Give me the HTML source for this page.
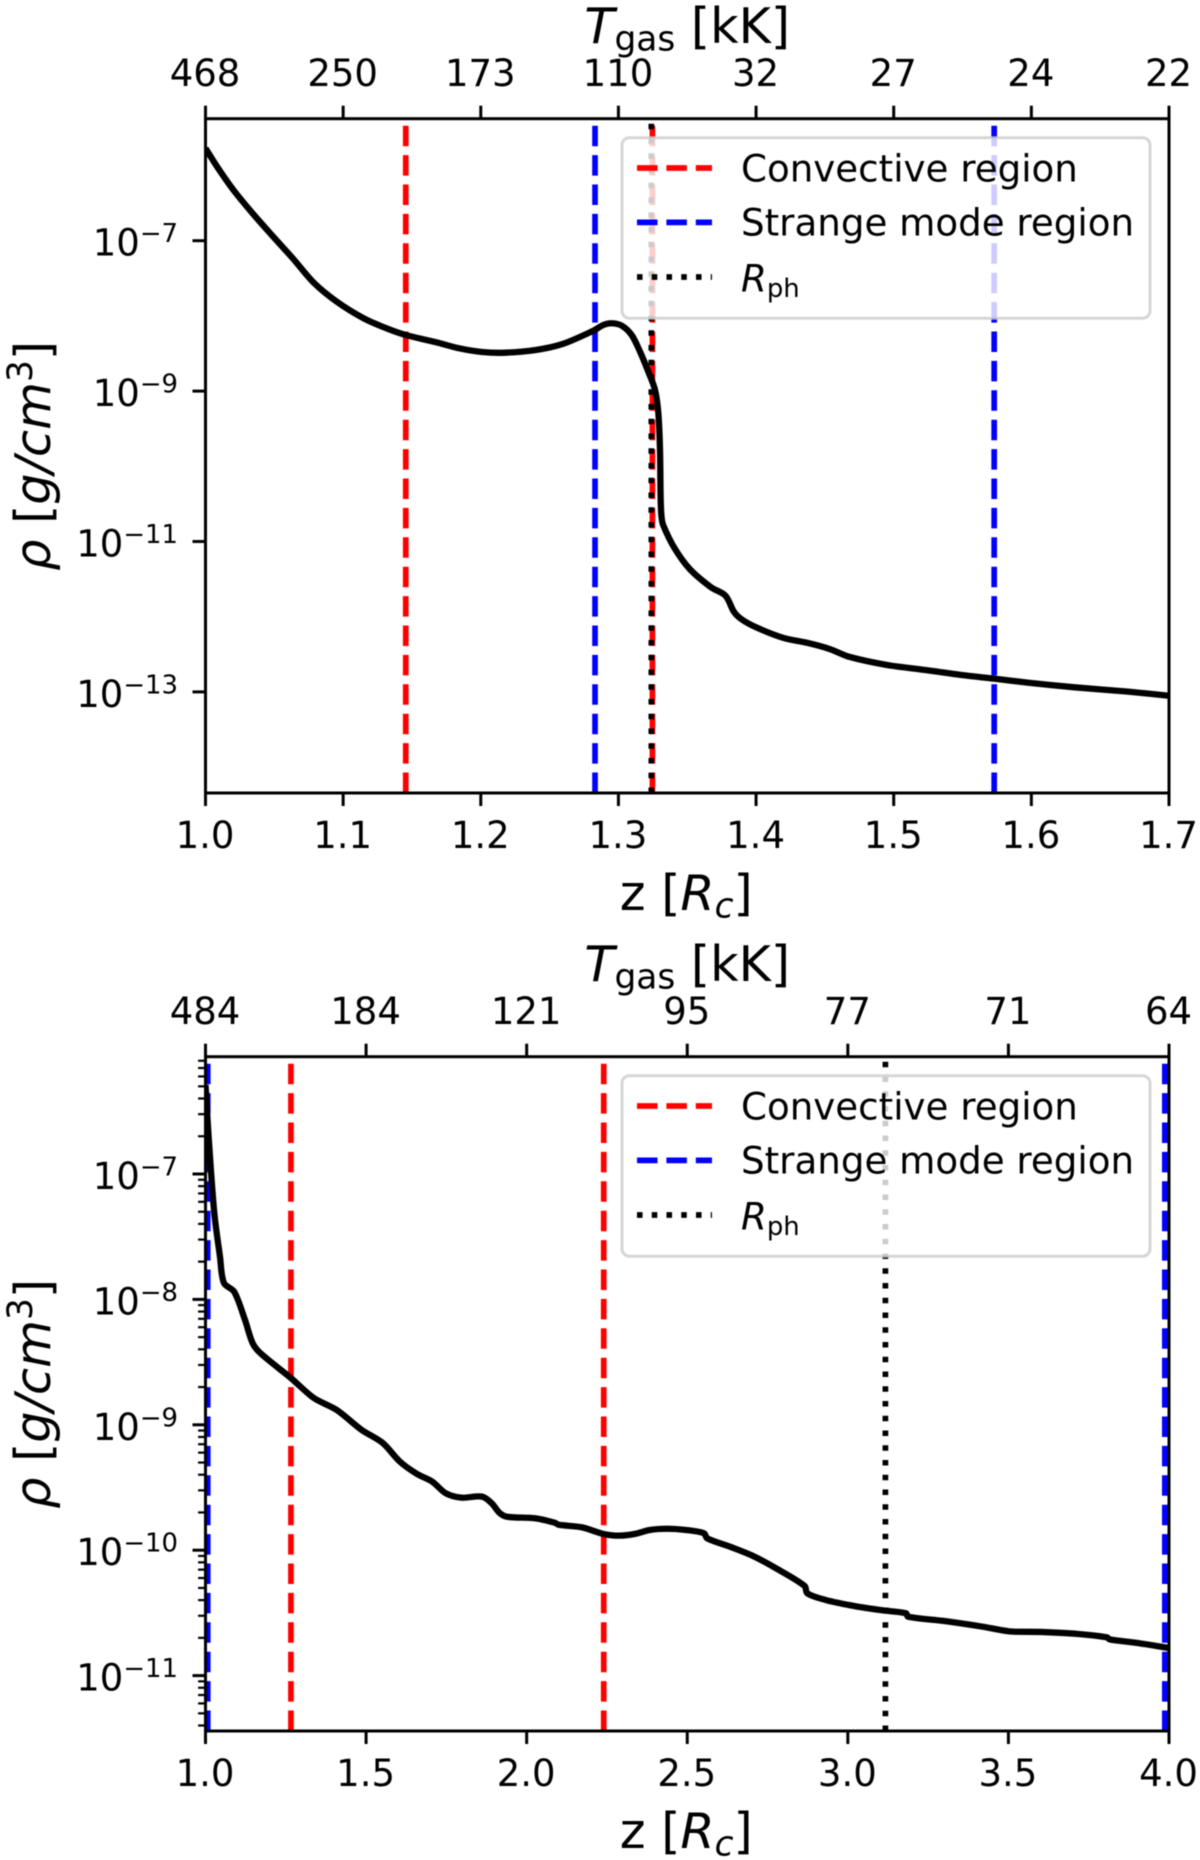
<!DOCTYPE html>
<html lang="en">
<head>
<meta charset="utf-8">
<title>Density profiles</title>
<style>
  html, body { margin: 0; padding: 0; background: #fff; }
  svg { display: block; filter: blur(0.5px); }
  text { font-family: "DejaVu Sans", "Liberation Sans", sans-serif; fill: #000; }
  .it { font-style: italic; }
</style>
</head>
<body>
<svg id="figure" xmlns="http://www.w3.org/2000/svg" width="1200" height="1860" viewBox="0 0 1200 1860">
  <rect x="0" y="0" width="1200" height="1860" fill="#fff"/>
</svg>
<script>
// Upper panel data
const zTop = [1.0000,1.0092,1.0203,1.0342,1.0481,1.0634,1.0787,1.0954,1.1149,1.1315,1.1455,1.1677,1.1843,1.2010,1.2177,1.2400,1.2594,1.2818,1.2890,1.2951,1.3024,1.3096,1.3157,1.3217,1.3266,1.3290,1.3302,1.3307,1.3313,1.3325,1.3408,1.3520,1.3673,1.3778,1.3839,1.3895,1.4006,1.4201,1.4368,1.4534,1.4674,1.4951,1.5230,1.5508,1.5730,1.5980,1.6314,1.6703,1.7000];
const logRhoTop = [-5.771,-6.037,-6.326,-6.636,-6.924,-7.234,-7.559,-7.811,-8.032,-8.165,-8.254,-8.351,-8.431,-8.480,-8.489,-8.453,-8.374,-8.197,-8.121,-8.098,-8.130,-8.254,-8.476,-8.742,-8.985,-9.295,-9.783,-10.448,-10.670,-10.781,-11.090,-11.370,-11.609,-11.721,-11.934,-12.035,-12.146,-12.283,-12.346,-12.429,-12.532,-12.642,-12.709,-12.779,-12.824,-12.878,-12.939,-12.997,-13.051];
const xTicksTop = [1.0,1.1,1.2,1.3,1.4,1.5,1.6,1.7];
const xLabelsTop = ["1.0","1.1","1.2","1.3","1.4","1.5","1.6","1.7"];
const tempLabelsTop = ["468","250","173","110","32","27","24","22"];
const yExpsTop = [-7,-9,-11,-13];
const convectiveTop = [1.1455,1.3247];
const strangeTop = [1.283,1.573];
const photosphereTop = [1.3239];

// Lower panel data
const zBottom = [1.0000,1.0097,1.0274,1.0451,1.0573,1.0894,1.1230,1.1466,1.1703,1.2659,1.3372,1.4088,1.4863,1.5517,1.6055,1.6585,1.7064,1.7481,1.7961,1.8614,1.8913,1.9150,1.9387,2.0283,2.0878,2.0996,2.1712,2.2400,2.2877,2.3353,2.3832,2.4368,2.4963,2.5523,2.5619,2.6332,2.7049,2.7761,2.8655,2.8739,2.9312,3.0028,3.0623,3.1170,3.1815,3.1874,3.3004,3.4197,3.5031,3.5984,3.7176,3.8070,3.8151,3.8963,4.0000];
const logRhoBottom = [-6.290,-6.703,-7.311,-7.659,-7.869,-7.939,-8.164,-8.348,-8.427,-8.627,-8.786,-8.882,-9.041,-9.145,-9.294,-9.392,-9.454,-9.546,-9.581,-9.573,-9.626,-9.701,-9.733,-9.746,-9.781,-9.797,-9.817,-9.871,-9.884,-9.871,-9.839,-9.829,-9.839,-9.865,-9.905,-9.972,-10.046,-10.144,-10.285,-10.344,-10.397,-10.437,-10.463,-10.482,-10.503,-10.530,-10.565,-10.610,-10.647,-10.652,-10.668,-10.695,-10.711,-10.738,-10.780];
const xTicksBottom = [1.0,1.5,2.0,2.5,3.0,3.5,4.0];
const xLabelsBottom = ["1.0","1.5","2.0","2.5","3.0","3.5","4.0"];
const tempLabelsBottom = ["484","184","121","95","77","71","64"];
const yExpsBottom = [-7,-8,-9,-10,-11];
const convectiveBottom = [1.266,2.24];
const strangeBottom = [1.007,3.987];
const photosphereBottom = [3.117];

const NS = "http://www.w3.org/2000/svg";
const svg = document.getElementById("figure");
const LW = 5.7, CURVE_LW = 6.3, AXW = 3, TITLE = 49.2, TITLE_SUB = 34.4;

function make(parent, tag, attrs, text) {
  const node = document.createElementNS(NS, tag);
  for (const k in attrs) node.setAttribute(k, attrs[k]);
  if (text !== undefined) node.textContent = text;
  parent.appendChild(node);
  return node;
}

function span(parent, text, attrs) {
  return make(parent, "tspan", attrs || {}, text);
}

// Smooth path through the points; control handles are limited by segment length so sharp knees do not overshoot.
function smoothPath(P) {
  const tan = P.map((q, i) => {
    const a = P[Math.max(i - 1, 0)], b = P[Math.min(i + 1, P.length - 1)];
    const dx = b[0] - a[0], dy = b[1] - a[1], n = Math.hypot(dx, dy) || 1;
    return [dx / n, dy / n];
  });
  let d = "M" + P[0][0].toFixed(2) + " " + P[0][1].toFixed(2);
  for (let i = 0; i < P.length - 1; i++) {
    const len = Math.hypot(P[i + 1][0] - P[i][0], P[i + 1][1] - P[i][1]) * 0.3;
    const c1x = P[i][0] + tan[i][0] * len, c1y = P[i][1] + tan[i][1] * len;
    const c2x = P[i + 1][0] - tan[i + 1][0] * len, c2y = P[i + 1][1] - tan[i + 1][1] * len;
    d += "C" + c1x.toFixed(2) + " " + c1y.toFixed(2) + " " + c2x.toFixed(2) + " " + c2y.toFixed(2) + " " + P[i + 1][0].toFixed(2) + " " + P[i + 1][1].toFixed(2);
  }
  return d;
}

function drawPanel(p, idx) {
  const X = z => p.left + (z - p.zMin) / (p.zMax - p.zMin) * (p.right - p.left);
  const Y = e => p.y0 - (e - p.e0) * p.perDecade;
  const pref = p.name;

  const panel = make(svg, "g", {});
  
  

  const clipId = "clip" + idx;
  const defs = make(panel, "defs", {});
  const clip = make(defs, "clipPath", { id: clipId });
  make(clip, "rect", { x: p.left, y: p.top, width: p.right - p.left, height: p.bottom - p.top });

  const marks = make(panel, "g", { "clip-path": "url(#" + clipId + ")" });
  
  

  p.convective.forEach(z => {
    const l = make(marks, "line", { x1: X(z), x2: X(z), y1: p.bottom, y2: p.top, stroke: "#f00", "stroke-width": LW, "stroke-dasharray": "20.5 8.9" });
    
    
  });
  p.strange.forEach(z => {
    const l = make(marks, "line", { x1: X(z), x2: X(z), y1: p.bottom, y2: p.top, stroke: "#00f", "stroke-width": LW, "stroke-dasharray": "20.5 8.9" });
    
    
  });
  p.photosphere.forEach(z => {
    const l = make(marks, "line", { x1: X(z), x2: X(z), y1: p.bottom, y2: p.top, stroke: "#000", "stroke-width": LW, "stroke-dasharray": "5.55 9.2" });
    
    
  });

  const pts = p.z.map((z, i) => [X(z), Y(p.logRho[i])]);
  const curve = make(marks, "path", { d: smoothPath(pts), fill: "none", stroke: "#000", "stroke-width": CURVE_LW, "stroke-linejoin": "round", "stroke-linecap": "butt" });
  
  

  // x ticks, bottom and top
  p.xTicks.forEach((z, i) => {
    const tb = make(panel, "line", { x1: X(z), x2: X(z), y1: p.bottom, y2: p.bottom + 13, stroke: "#000", "stroke-width": AXW });
    
    
    const lb = make(panel, "text", { x: X(z) - 0.5, y: p.bottom + 55, "text-anchor": "middle", "font-size": 37 }, p.xLabels[i]);
    
    
    const tt = make(panel, "line", { x1: X(z), x2: X(z), y1: p.top, y2: p.top - 13, stroke: "#000", "stroke-width": AXW });
    
    
    const lt = make(panel, "text", { x: X(z) - 0.5, y: p.top - 32.7, "text-anchor": "middle", "font-size": 37 }, p.tempLabels[i]);
    
    
  });

  // y ticks
  p.yExps.forEach(e => {
    const t = make(panel, "line", { x1: p.left - 13, x2: p.left, y1: Y(e), y2: Y(e), stroke: "#000", "stroke-width": AXW });
    
    
    const lab = make(panel, "text", { x: 178, y: Y(e) + 15, "text-anchor": "end", "font-size": 37 });
    
    
    span(lab, "10");
    span(lab, "\u2212" + Math.abs(e), { dy: -13.5, "font-size": 25.9 });
  });

  if (p.minor) {
    const eHi = Math.ceil(p.eTop), eLo = Math.floor(p.eBottom);
    for (let d = eLo; d < eHi; d++) {
      for (let m = 2; m <= 9; m++) {
        const e = d + Math.log10(m);
        if (e > p.eTop || e < p.eBottom) continue;
        const t = make(panel, "line", { x1: p.left - 7.4, x2: p.left, y1: Y(e), y2: Y(e), stroke: "#000", "stroke-width": 2.2 });
        
        
      }
    }
  }

  // spines
  const frame = make(panel, "rect", { x: p.left, y: p.top, width: p.right - p.left, height: p.bottom - p.top, fill: "none", stroke: "#000", "stroke-width": AXW });
  
  

  // axis titles
  const xt = make(panel, "text", { x: (p.left + p.right) / 2 - 1, y: p.bottom + 117, "text-anchor": "middle", "font-size": TITLE });
  
  
  span(xt, "z [");
  span(xt, "R", { class: "it" });
  span(xt, "c", { class: "it", dy: 7.5, "font-size": TITLE_SUB });
  span(xt, "]", { dy: -7.5 });

  const tt = make(panel, "text", { x: (p.left + p.right) / 2, y: p.top - 75.5, "text-anchor": "middle", "font-size": TITLE });
  
  
  span(tt, "T", { class: "it" });
  span(tt, "gas", { dy: 7.5, "font-size": TITLE_SUB });
  span(tt, " [kK]", { dy: -7.5 });

  const yc = (p.top + p.bottom) / 2;
  const yt = make(panel, "text", { x: 0, y: 0, transform: "translate(50," + yc + ") rotate(-90)", "text-anchor": "middle", "font-size": TITLE });
  
  
  span(yt, "\u03C1", { class: "it" });
  span(yt, " [");
  span(yt, "g/cm", { class: "it" });
  span(yt, "3", { dy: -18, "font-size": TITLE_SUB });
  span(yt, "]", { dy: 18 });

  // legend
  const ly = p.top + 19;
  const legend = make(panel, "g", {});
  
  
  const box = make(legend, "rect", { x: 622, y: ly, width: 528, height: 180.5, rx: 7.4, ry: 7.4, fill: "#fff", "fill-opacity": 0.8, stroke: "#ccc", "stroke-opacity": 0.8, "stroke-width": AXW });
  
  

  const rows = [
    { key: "legend-convective", stroke: "#f00", dash: "20.5 8.9", dy: 30.3, base: 44 },
    { key: "legend-strange", stroke: "#00f", dash: "20.5 8.9", dy: 84.7, base: 98 }
  ];
  rows.forEach((r, i) => {
    const ln = make(legend, "line", { x1: 637, x2: 712, y1: ly + r.dy, y2: ly + r.dy, stroke: r.stroke, "stroke-width": LW, "stroke-dasharray": r.dash });
    
    
    const tx = make(legend, "text", { x: 741, y: ly + r.base, "font-size": 37.2 }, i === 0 ? "Convective region" : "Strange mode region");
    
    
  });
  const ln3 = make(legend, "line", { x1: 637, x2: 712, y1: ly + 139.3, y2: ly + 139.3, stroke: "#000", "stroke-width": LW, "stroke-dasharray": "5.55 9.2" });
  
  
  const tx3 = make(legend, "text", { x: 741, y: ly + 154, "font-size": 37.2 });
  
  
  span(tx3, "R", { class: "it" });
  span(tx3, "ph", { dy: 5.5, "font-size": 25.9 });
}

drawPanel({
  name: "upper", left: 205.5, right: 1169, top: 118.7, bottom: 793,
  zMin: 1.0, zMax: 1.7, y0: 240.7, e0: -7, perDecade: 75.2,
  eTop: -5.38, eBottom: -14.34, minor: false,
  z: zTop, logRho: logRhoTop, xTicks: xTicksTop, xLabels: xLabelsTop, tempLabels: tempLabelsTop,
  yExps: yExpsTop, convective: convectiveTop, strange: strangeTop, photosphere: photosphereTop
}, 0);

drawPanel({
  name: "lower", left: 205.5, right: 1169, top: 1056.7, bottom: 1731,
  zMin: 1.0, zMax: 4.0, y0: 1174, e0: -7, perDecade: 125.4,
  eTop: -6.065, eBottom: -11.44, minor: true,
  z: zBottom, logRho: logRhoBottom, xTicks: xTicksBottom, xLabels: xLabelsBottom, tempLabels: tempLabelsBottom,
  yExps: yExpsBottom, convective: convectiveBottom, strange: strangeBottom, photosphere: photosphereBottom
}, 1);
</script>
</body>
</html>
